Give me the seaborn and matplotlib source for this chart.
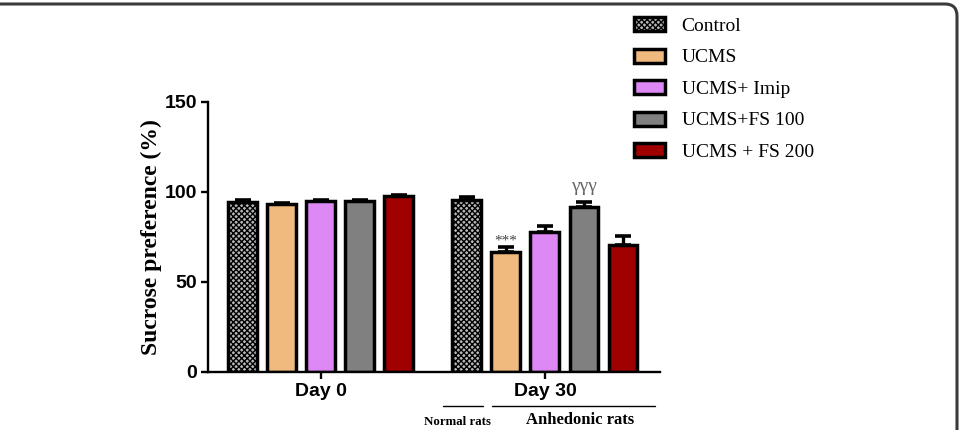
import numpy as np
import pandas as pd
import seaborn as sns
import matplotlib
matplotlib.use("Agg")
import matplotlib.pyplot as plt
from matplotlib.patches import Patch, FancyBboxPatch
from matplotlib.transforms import IdentityTransform, blended_transform_factory

# ---- data ----
days = ["Day 0", "Day 30"]
groups = ["Control", "UCMS", "UCMS+ Imip", "UCMS+FS 100", "UCMS + FS 200"]
day0_means = [94.2, 93.3, 95.2, 95.2, 97.8]
day0_sem = [1.5, 0.6, 0.6, 0.6, 0.6]
day30_means = [95.7, 66.6, 78.0, 91.4, 70.7]
day30_sem = [1.3, 2.8, 3.0, 2.9, 4.9]
colors = ["#b8b8b8", "#F0B97D", "#DD88F5", "#808080", "#A00000"]
yticks = [0, 50, 100, 150]

df = pd.DataFrame({
    "day": [days[0]] * 5 + [days[1]] * 5,
    "group": groups + groups,
    "value": day0_means + day30_means,
    "sem": day0_sem + day30_sem,
})

sns.set_style("ticks", {"axes.edgecolor": "black", "text.color": "black",
                        "xtick.color": "black", "ytick.color": "black",
                        "axes.labelcolor": "black"})
plt.rcParams["hatch.linewidth"] = 1.0
W, H = 961, 430
fig = plt.figure(figsize=(W / 100, H / 100), dpi=100)
ax = fig.add_axes([208 / W, 1 - 372 / H, (660 - 208) / W, (372 - 102) / H])

sns.barplot(data=df, x="day", y="value", hue="group", order=days,
            hue_order=groups, palette=colors, errorbar=None, width=0.87,
            gap=0.26, edgecolor="black", linewidth=2.5, ax=ax, legend=False,
            saturation=1)

bar_containers = list(ax.containers)
# hatch on control + error bars
for gi, cont in enumerate(bar_containers):
    for di, bar in enumerate(cont):
        if gi == 0:
            bar.set_hatch("xxxxxx")
        sem = df[(df.group == groups[gi]) & (df.day == days[di])]["sem"].iloc[0]
        xc = bar.get_x() + bar.get_width() / 2
        ax.errorbar(xc, bar.get_height(), yerr=[[0], [sem]], color="black",
                    capsize=5.5, elinewidth=2.4, capthick=2.6, zorder=1.5)

ax.set_ylim(0, 150)
ax.set_yticks(yticks)
ax.set_xlim(-0.502, 1.513)
ax.set_xlabel("")
ax.set_ylabel("Sucrose preference (%)", family="Liberation Serif",
              fontweight="bold", fontsize=17, labelpad=2)
for s in ["top", "right"]:
    ax.spines[s].set_visible(False)
for s in ["left", "bottom"]:
    ax.spines[s].set_linewidth(1.7)
ax.tick_params(axis="both", width=1.7, length=5, direction="out", pad=3,
               colors="black")
for lab in ax.get_yticklabels():
    lab.set_family("Liberation Sans"); lab.set_fontweight("bold"); lab.set_fontsize(14)
for lab in ax.get_xticklabels():
    lab.set_family("Liberation Sans"); lab.set_fontweight("bold"); lab.set_fontsize(14)

# significance marks
ucms30 = bar_containers[1][1]
fs30 = bar_containers[3][1]
ax.text(ucms30.get_x() + ucms30.get_width() / 2, 73.0, "***", ha="center",
        va="center", fontsize=11, color="#444444", family="Liberation Serif")
ax.text(fs30.get_x() + fs30.get_width() / 2, 102.8, "γγγ", ha="center",
        va="center", fontsize=14, color="#666666", family="Liberation Serif")

# group lines under axis
tr = blended_transform_factory(ax.transData, ax.transAxes)
ax.plot([0.545, 0.724], [-0.126, -0.126], transform=tr, color="black",
        lw=1.0, clip_on=False)
ax.plot([0.763, 1.49], [-0.126, -0.126], transform=tr, color="black",
        lw=1.0, clip_on=False)
ax.text(0.612, -0.185, "Normal rats", transform=tr, ha="center", va="center",
        family="Liberation Serif", fontweight="bold", fontsize=9.3)
ax.text(1.155, -0.178, "Anhedonic rats", transform=tr, ha="center",
        va="center", family="Liberation Serif", fontweight="bold", fontsize=12)

# legend
handles = [Patch(facecolor=c, edgecolor="black", linewidth=2.5,
                 hatch=("xxxxxx" if i == 0 else None)) for i, c in enumerate(colors)]
fig.legend(handles, groups, loc="upper left",
           bbox_to_anchor=(634 / W, 1 - 17 / H), frameon=False,
           prop={"family": "Liberation Serif", "size": 14},
           handlelength=1.6, handleheight=0.75, handletextpad=0.85,
           labelspacing=0.7, borderpad=0, borderaxespad=0)

# rounded frame (only top/right visible)
frame = FancyBboxPatch((-30, -30), 957 + 30, 426 + 30,
                       boxstyle="round,pad=0,rounding_size=12",
                       transform=IdentityTransform(), fill=False,
                       edgecolor="#3a3a3a", linewidth=2.2, clip_on=False)
fig.add_artist(frame)

fig.savefig("out.png", dpi=100)
